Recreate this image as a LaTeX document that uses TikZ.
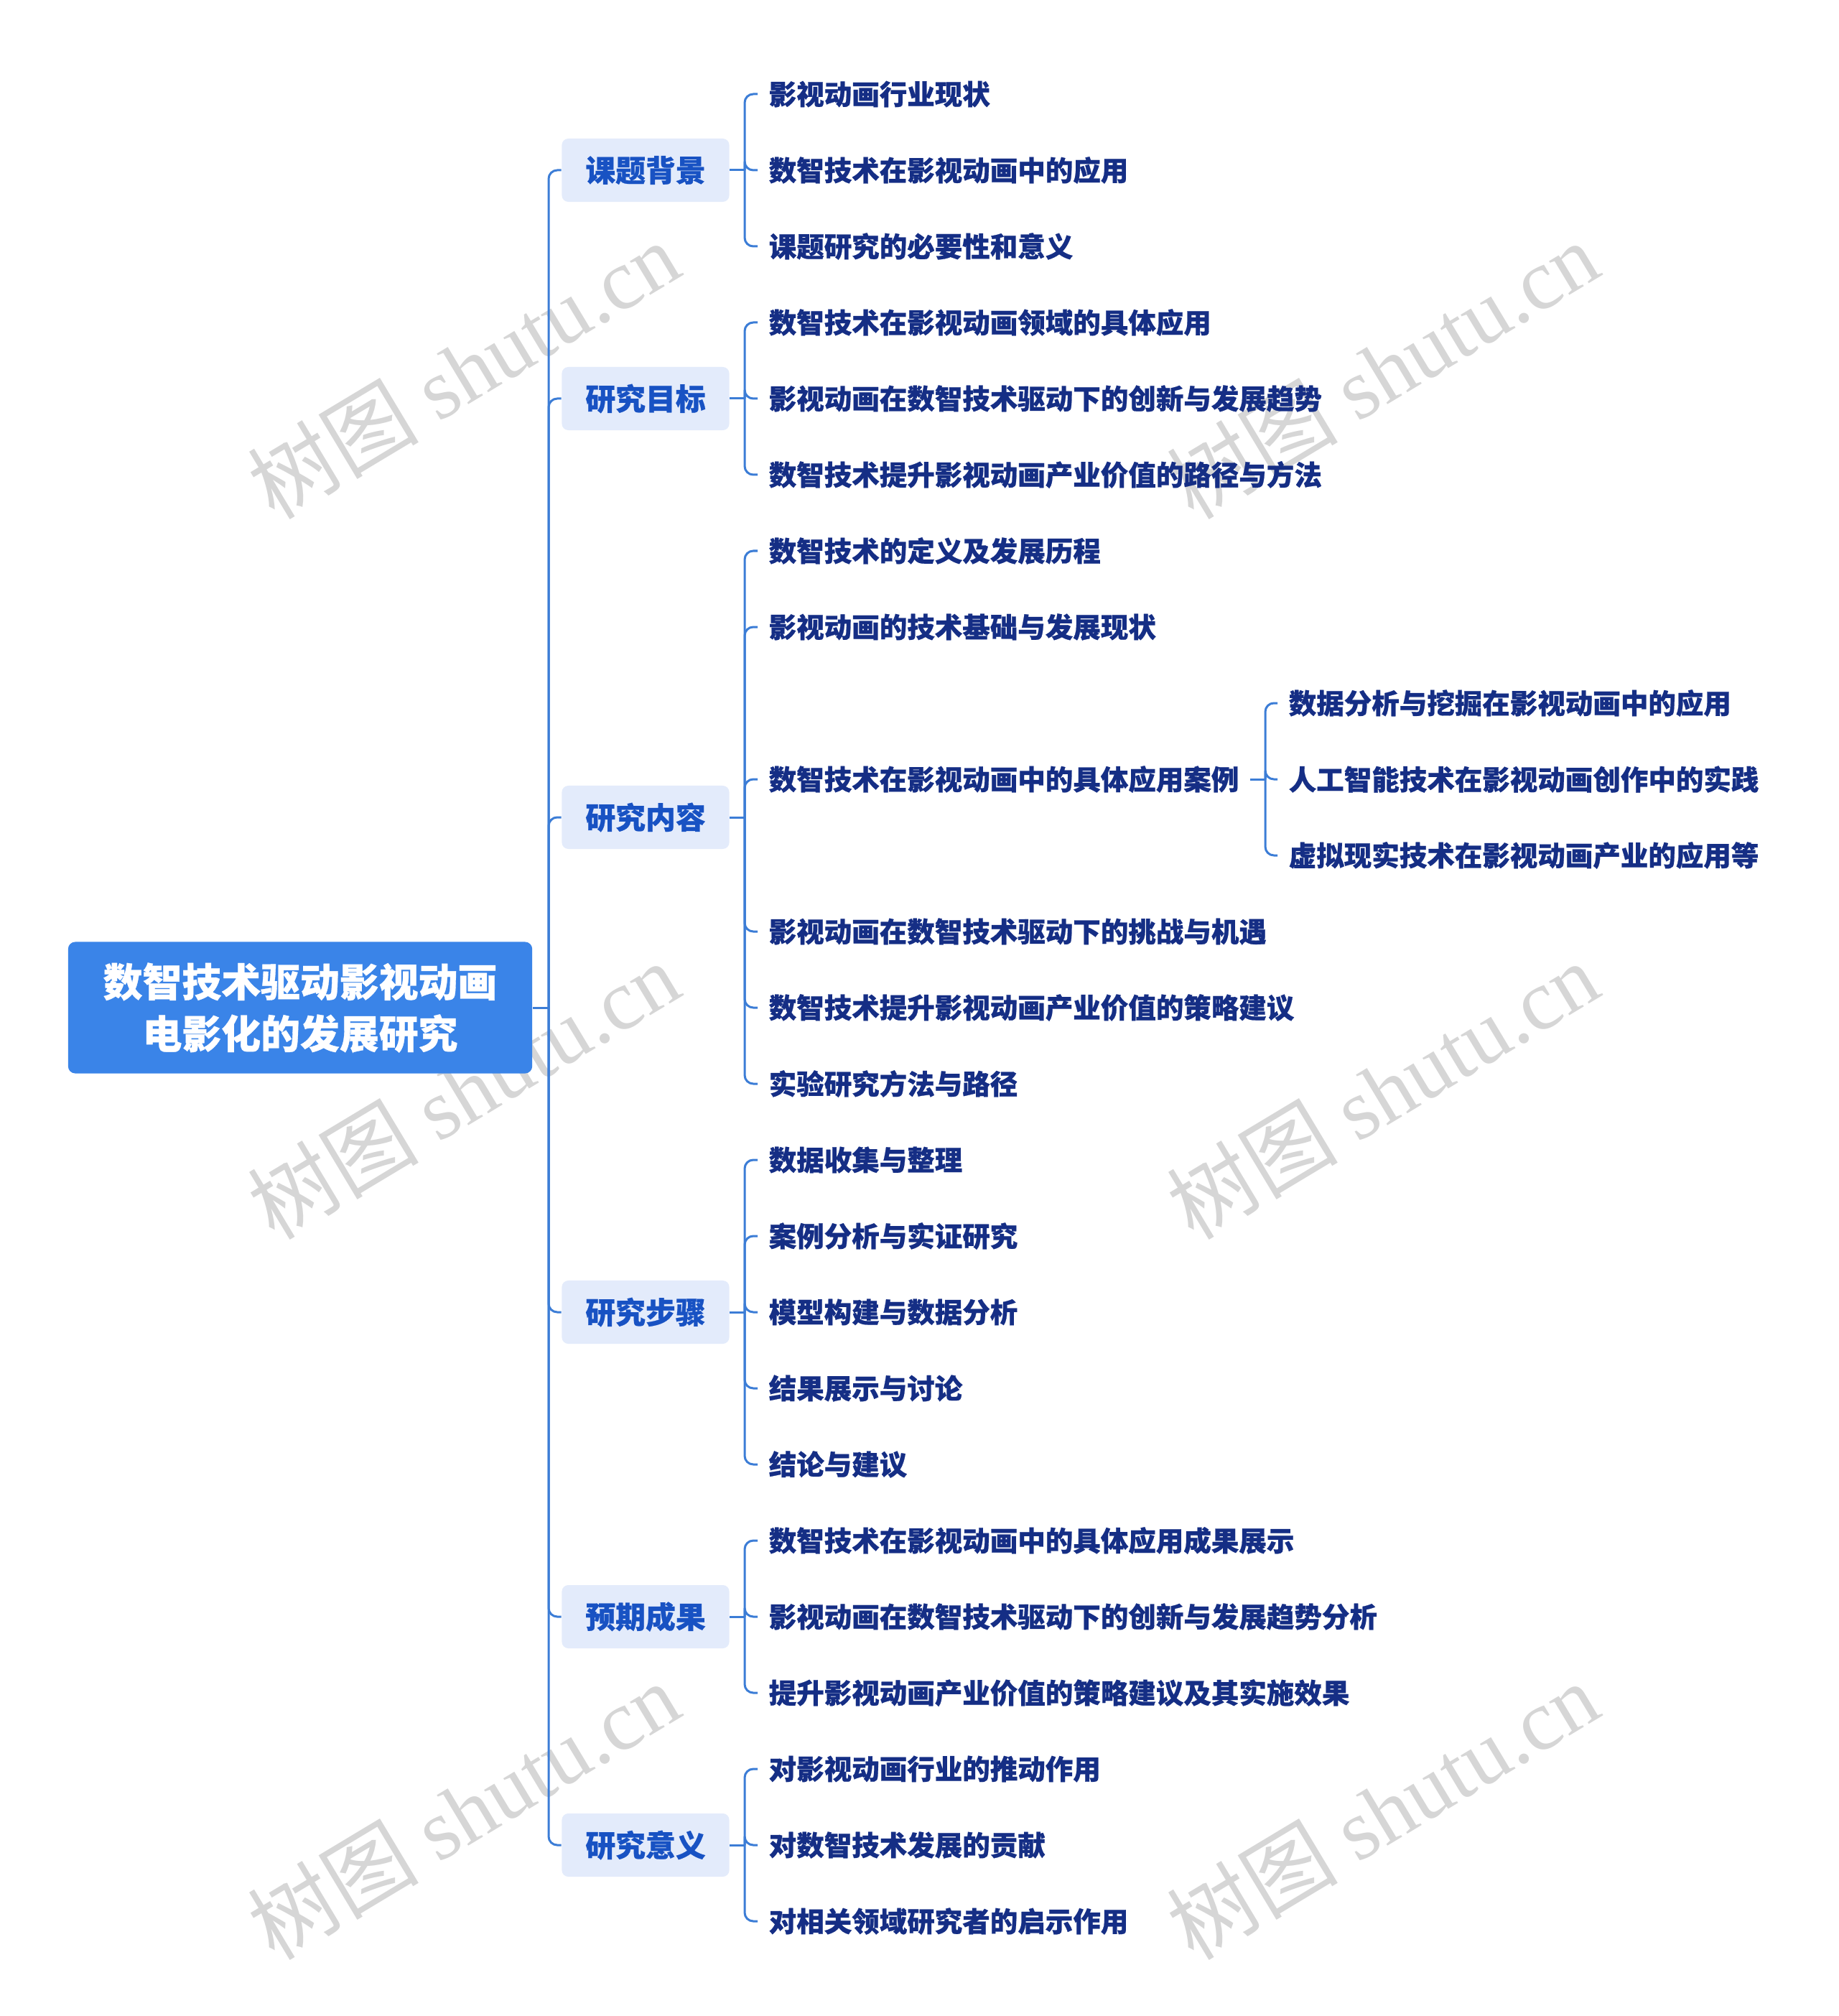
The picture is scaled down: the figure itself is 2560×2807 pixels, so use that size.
\documentclass[tikz,border=0pt]{standalone}
\usepackage{fontspec}
\usepackage{xcolor}
\setmainfont{Noto Sans CJK SC}[BoldFeatures={FakeBold=0.6}]
\newfontfamily\wmlatin{Liberation Serif}
\definecolor{rootblue}{HTML}{3A84E8}
\definecolor{topicfill}{HTML}{E3EBFB}
\definecolor{topictext}{HTML}{1852C3}
\definecolor{leaftext}{HTML}{152E85}
\definecolor{linkblue}{HTML}{3C7DD6}
\definecolor{wmgray}{HTML}{D6D6D6}

\begin{document}
\begin{tikzpicture}[x=0.01cm,y=-0.01cm,
  link/.style={draw=linkblue,line width=0.03cm,rounded corners=0.12cm},
  root node/.style={fill=rootblue,rounded corners=0.1cm,text=white,align=center,minimum width=6.46cm,minimum height=1.83cm,inner sep=0pt,font=\bfseries\fontsize{15.6}{20.5}\selectfont},
  topic node/.style={fill=topicfill,rounded corners=0.09cm,text=topictext,minimum width=2.33cm,minimum height=0.88cm,inner sep=0pt,font=\bfseries\fontsize{11.9}{14}\selectfont},
  leaf node/.style={anchor=west,inner xsep=0.15cm,inner ysep=0.05cm,text=leaftext,font=\bfseries\fontsize{10.95}{13}\selectfont},
  watermark/.style={text=wmgray,rotate=31,font=\fontsize{34}{40}\selectfont}]
\useasboundingbox (0,0) rectangle (2560,2807);

% Watermarks
\foreach \wx in {645,1925}
  \foreach \wy in {515,1518,2521}
    \node[watermark] (wm-\wx-\wy) at (\wx,\wy) {树图 {\wmlatin shutu.cn}};

% Root and main topics
\node[root node] (root) at (418,1403) {数智技术驱动影视动画\\电影化的发展研究};
\coordinate (trunk) at (764,1403);

\node[topic node] (k1) at (899,237) {课题背景};
\node[topic node] (k2) at (899,555) {研究目标};
\node[topic node] (k3) at (899,1138) {研究内容};
\node[topic node] (k4) at (899,1827) {研究步骤};
\node[topic node] (k5) at (899,2251) {预期成果};
\node[topic node] (k6) at (899,2569) {研究意义};

\draw[link] (root.east) -- (trunk);
\foreach \k in {k1,k2,k3,k4,k5,k6}
  \draw[link] (trunk) |- (\k.west);

% Subtopics
\node[leaf node] (k1a) at (1055,131) {影视动画行业现状};
\node[leaf node] (k1b) at (1055,237) {数智技术在影视动画中的应用};
\node[leaf node] (k1c) at (1055,343) {课题研究的必要性和意义};

\node[leaf node] (k2a) at (1055,449) {数智技术在影视动画领域的具体应用};
\node[leaf node] (k2b) at (1055,555) {影视动画在数智技术驱动下的创新与发展趋势};
\node[leaf node] (k2c) at (1055,661) {数智技术提升影视动画产业价值的路径与方法};

\node[leaf node] (k3a) at (1055,767) {数智技术的定义及发展历程};
\node[leaf node] (k3b) at (1055,873) {影视动画的技术基础与发展现状};
\node[leaf node] (k3c) at (1055,1085) {数智技术在影视动画中的具体应用案例};
\node[leaf node] (k3d) at (1055,1297) {影视动画在数智技术驱动下的挑战与机遇};
\node[leaf node] (k3e) at (1055,1403) {数智技术提升影视动画产业价值的策略建议};
\node[leaf node] (k3f) at (1055,1509) {实验研究方法与路径};

\node[leaf node] (k3c1) at (1779,979) {数据分析与挖掘在影视动画中的应用};
\node[leaf node] (k3c2) at (1779,1085) {人工智能技术在影视动画创作中的实践};
\node[leaf node] (k3c3) at (1779,1191) {虚拟现实技术在影视动画产业的应用等};

\node[leaf node] (k4a) at (1055,1615) {数据收集与整理};
\node[leaf node] (k4b) at (1055,1721) {案例分析与实证研究};
\node[leaf node] (k4c) at (1055,1827) {模型构建与数据分析};
\node[leaf node] (k4d) at (1055,1933) {结果展示与讨论};
\node[leaf node] (k4e) at (1055,2039) {结论与建议};

\node[leaf node] (k5a) at (1055,2145) {数智技术在影视动画中的具体应用成果展示};
\node[leaf node] (k5b) at (1055,2251) {影视动画在数智技术驱动下的创新与发展趋势分析};
\node[leaf node] (k5c) at (1055,2357) {提升影视动画产业价值的策略建议及其实施效果};

\node[leaf node] (k6a) at (1055,2463) {对影视动画行业的推动作用};
\node[leaf node] (k6b) at (1055,2569) {对数智技术发展的贡献};
\node[leaf node] (k6c) at (1055,2675) {对相关领域研究者的启示作用};

% Brackets
\coordinate (f1) at (1037,237);
\coordinate (f2) at (1037,555);
\coordinate (f3) at (1037,1138);
\coordinate (f4) at (1037,1827);
\coordinate (f5) at (1037,2251);
\coordinate (f6) at (1037,2569);
\coordinate (f3c) at (1762,1085);

\draw[link] (k1.east) -- (f1);
\foreach \s in {k1a,k1b,k1c} \draw[link] (f1) |- (\s.west);
\draw[link] (k2.east) -- (f2);
\foreach \s in {k2a,k2b,k2c} \draw[link] (f2) |- (\s.west);
\draw[link] (k3.east) -- (f3);
\foreach \s in {k3a,k3b,k3c,k3d,k3e,k3f} \draw[link] (f3) |- (\s.west);
\draw[link] (k3c.east) -- (f3c);
\foreach \s in {k3c1,k3c2,k3c3} \draw[link] (f3c) |- (\s.west);
\draw[link] (k4.east) -- (f4);
\foreach \s in {k4a,k4b,k4c,k4d,k4e} \draw[link] (f4) |- (\s.west);
\draw[link] (k5.east) -- (f5);
\foreach \s in {k5a,k5b,k5c} \draw[link] (f5) |- (\s.west);
\draw[link] (k6.east) -- (f6);
\foreach \s in {k6a,k6b,k6c} \draw[link] (f6) |- (\s.west);

\end{tikzpicture}
\end{document}
